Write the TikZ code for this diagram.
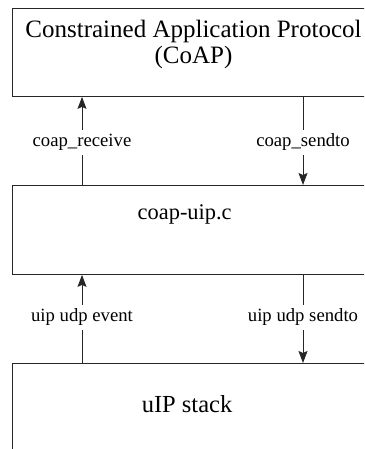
\documentclass[tikz,border=0pt]{standalone}
\usepackage{fontspec}
\setmainfont{Liberation Serif}
\usetikzlibrary{arrows.meta}
\begin{document}
\begin{tikzpicture}[x=1pt,y=1pt,
  layer/.style={draw=black!85, line width=0.9pt, rectangle, inner sep=0pt, anchor=north west},
  arr/.style={draw=black!85, line width=0.9pt, -{Stealth[length=12pt,width=9pt,inset=2pt]}},
  callname/.style={fill=white, inner sep=4pt, anchor=base, font=\fontsize{18.7}{22}\selectfont},
  title/.style={anchor=base, inner sep=0pt}]
\clip (0,0) rectangle (364,449);
% the three layers (they run on past the right and lower edges)
\node[layer, minimum width=420pt, minimum height=88pt] (coap) at (12,441) {};
\node[layer, minimum width=420pt, minimum height=89pt] (uipc) at (12,264) {};
\node[layer, minimum width=420pt, minimum height=150pt] (stack) at (12,86) {};
% layer captions
\node[title, font=\fontsize{25}{30}\selectfont] (t1) at (193.5,411.5) {Constrained Application Protocol};
\node[title, font=\fontsize{25}{30}\selectfont] (t2) at (193.5,385) {(CoAP)};
\node[title, font=\fontsize{22.4}{27}\selectfont] (t3) at (184.7,229) {coap-uip.c};
\node[title, font=\fontsize{24.5}{29}\selectfont] (t4) at (187,36) {uIP stack};
% columns of the two call paths
\coordinate (lx) at (82,0);
\coordinate (rx) at (303,0);
% calls between the layers
\draw[arr] (lx |- uipc.north) -- (lx |- coap.south);
\draw[arr] (rx |- coap.south) -- (rx |- uipc.north);
\draw[arr] (lx |- stack.north) -- (lx |- uipc.south);
\draw[arr] (rx |- uipc.south) -- (rx |- stack.north);
% call names
\node[callname] (recv) at (82,302.3) {coap\_receive};
\node[callname] (send) at (303,302.3) {coap\_sendto};
\node[callname] (evt) at (82,127.3) {uip udp event};
\node[callname] (usend) at (303,127.3) {uip udp sendto};
\end{tikzpicture}
\end{document}
